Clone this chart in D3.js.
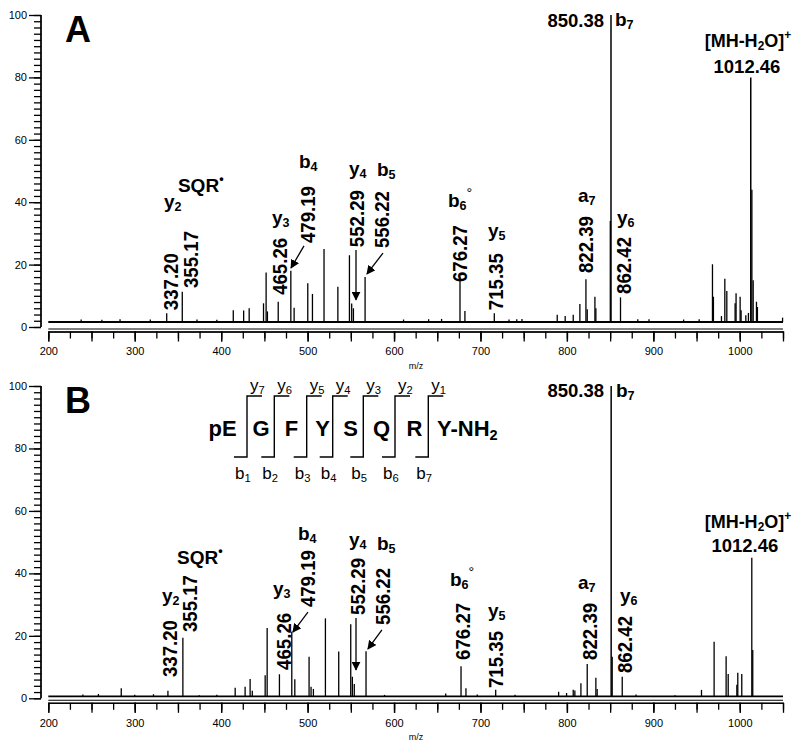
<!DOCTYPE html>
<html><head><meta charset="utf-8">
<script src="https://cdn.jsdelivr.net/npm/d3@7"></script>
<style>body{margin:0;background:#fff}svg{display:block}</style>
</head><body><svg id="c" width="800" height="749"></svg>
<script>
// ---------------- DATA ----------------
const mzDomain = [200, 1050];
const xLabelTicks = [200, 300, 400, 500, 600, 700, 800, 900, 1000];
const yLabelTicks = [0, 20, 40, 60, 80, 100];

// Spectrum A: [m/z, relative intensity %]
const peaksA = [
  [337.0,4.4],[355.0,11.3],[414,5.4],[426,5.3],[432.4,6.0],[449,7.6],[452,17.5],[453.5,5],
  [466,8.1],[480.6,18],[484.4,6.2],[500.2,14],[505.6,10.6],[519,25],[535,12.9],[548.4,23],
  [551,7.5],[553,6],[566.5,16],[676.3,16.3],[682,5.1],[716,4.4],[742,2.5],[788.8,3.9],
  [798,3.5],[807.3,3.9],[815,7.4],[822,15.3],[823.5,5.7],[832.4,9.7],[833.5,6],[850.2,34],
  [851,100],[862,9.5],[882,2.5],[953,2.5],[968.4,20.1],[969.5,9.7],[978.8,3.5],[982.7,15.5],
  [985,11.5],[994.6,7.6],[995.7,10.8],[1000.4,9.7],[1001.5,5.4],[1007,3.8],[1010,4.5],
  [1012.7,80],[1014,44],[1015.5,15],[1019.3,8.1],[1020.4,6.4],[1049.5,3],
  [238,2.4],[262,2.3],[283,2.5],[318,2.4],[372,2.4],[395,2.3],[611,2.4],[640,2.5],[655,2.6],[733,2.4],[748,2.6],[895,2.5],[935,2.4]
];
// Spectrum B
const peaksB = [
  [284.4,3.2],[321.7,1.3],[338.4,2.4],[355.7,19.4],[374.6,1.0],[416.2,3.4],[427.7,3.7],
  [433.5,6.2],[436,2.4],[450.9,7.4],[453.2,22.5],[467.4,7.7],[481.7,21.3],[485.2,6.1],
  [501.7,13.3],[504,3.7],[506.7,3],[520.6,25.6],[536,15],[549.9,23.7],[551.8,6.9],[554,4.6],
  [567.6,15.1],[659.8,1.5],[677.5,10.3],[683.2,3.2],[696.3,1.2],[717.6,2.7],[790.4,2.1],
  [799.6,1.7],[807.3,2.7],[809.2,2.5],[816.2,4.8],[823.5,11],[833.5,6.6],[835,3],
  [851.2,100],[852.4,13.3],[864,6.9],[955.7,2.7],[970.3,18.1],[984.2,13.5],[986.6,7.8],
  [996.6,4.3],[997.7,8.2],[1002.3,7.8],[1013.9,45],[1015,15.5],
  [240,1.2],[258,1.4],[300,1.1],[395,1.1],[589,1.1],[740,1.1],[880,1.2],[925,1.0]
];
const baselineA = 1.6, baselineB = 0.6;

// Peak annotations (rotated m/z values): [text, m/z anchor, intensity anchor]
const mzLabelsA = [["337.20",341.9,5.4],["355.17",365.0,12.5],["465.26",468.1,10.3],["479.19",499.9,26.9],
  ["552.29",557.1,25.6],["556.22",585.5,25.3],["676.27",676.3,14.4],["715.35",717.4,5.4],
  ["822.39",821.5,17.3],["862.42",865.4,10.6]];
const mzLabelsB = [["337.20",340.8,6.8],["355.17",363.9,21.2],["465.26",472.7,9.1],["479.19",499.9,29.2],
  ["552.29",557.7,26.7],["556.22",586.6,23.5],["676.27",679.2,12.3],["715.35",718.0,3.3],
  ["822.39",826.1,12.3],["862.42",866.6,8.1]];
// Ion labels: [text, m/z, intensity, anchor]
const ionLabelsA = [["y_2",333.9,38.1,"start"],["SQR^•",350.0,43.3,"start"],["y_3",458.8,33.0,"start"],
  ["b_4",490.0,51.0,"start"],["y_4",547.9,48.7,"start"],["b_5",580.3,48.4,"start"],
  ["b_6^°",662.4,38.5,"start"],["y_5",708.7,28.8,"start"],["a_7",812.8,40.1,"start"],
  ["y_6",857.9,33.0,"start"],["850.38",842.9,96.2,"end"],["b_7",855.6,96.5,"start"],
  ["[MH-H_2O]^+",1009.4,89.7,"middle"],["1012.46",1008.3,81.4,"middle"]];
const ionLabelsB = [["y_2",331.5,30.8,"start"],["SQR^•",348.9,43.0,"start"],["y_3",459.9,33.1,"start"],
  ["b_4",488.8,50.7,"start"],["y_4",547.9,48.8,"start"],["b_5",580.3,47.5,"start"],
  ["b_6^°",664.7,36.0,"start"],["y_5",708.7,26.0,"start"],["a_7",812.8,35.0,"start"],
  ["y_6",861.3,30.8,"start"],["850.38",842.9,96.5,"end"],["b_7",856.7,96.5,"start"],
  ["[MH-H_2O]^+",1009.4,54.5,"middle"],["1012.46",1005.9,46.8,"middle"]];
// Arrows: [mz1, int1, mz2, int2]
const arrowsA = [[495.8,26.0,480.8,18.9],[556.0,24.7,556.0,8.7],[587.2,23.7,568.7,17.0]];
const arrowsB = [[500.4,27.6,483.0,21.2],[556.0,25.7,556.0,9.1],[586.0,21.9,569.8,15.8]];

// Sequence diagram
const residues = ["pE","G","F","Y","S","Q","R","Y-NH_2"];
const yIons = ["y_7","y_6","y_5","y_4","y_3","y_2","y_1"];
const bIons = ["b_1","b_2","b_3","b_4","b_5","b_6","b_7"];

// ---------------- DRAW ----------------
const svg = d3.select("#c");
svg.append("rect").attr("width",800).attr("height",749).attr("fill","#fff");
const FONT = "'Liberation Sans', Arial, Helvetica, sans-serif";
const x = d3.scaleLinear().domain(mzDomain).range([48.3, 783]);

svg.append("defs").append("marker").attr("id","ah").attr("viewBox","0 0 10 10")
  .attr("refX",9).attr("refY",5).attr("markerWidth",9).attr("markerHeight",9)
  .attr("markerUnits","userSpaceOnUse").attr("orient","auto")
  .append("path").attr("d","M0,0 L10,5 L0,10 Z").attr("fill","#000");

function rich(sel, str, fs) {
  let cur = 0;
  const toks = [];
  let buf = "";
  for (let i = 0; i < str.length; i++) {
    const c = str[i];
    if ((c === "_" || c === "^") && i + 1 < str.length) {
      if (buf) { toks.push([buf, 0]); buf = ""; }
      toks.push([str[i+1], c === "_" ? 1 : -1]); i++;
    } else buf += c;
  }
  if (buf) toks.push([buf, 0]);
  toks.forEach(([t, k]) => {
    const target = k === 1 ? 0.16*fs : k === -1 ? -0.45*fs : 0;
    const ts = sel.append("tspan").attr("dy", target - cur)
      .attr("font-size", k === 0 ? fs : 0.66*fs).text(t);
    if (t === "°") ts.attr("font-weight","normal").attr("font-size", 0.75*fs);
    cur = target;
  });
}

const panels = [
  {key:"A", y0:327, y100:15, peaks:peaksA, base:baselineA, mzl:mzLabelsA, ions:ionLabelsA, arrows:arrowsA},
  {key:"B", y0:698.3, y100:386, peaks:peaksB, base:baselineB, mzl:mzLabelsB, ions:ionLabelsB, arrows:arrowsB}
];

panels.forEach(p => {
  const y = d3.scaleLinear().domain([0,100]).range([p.y0, p.y100]);
  const g = svg.append("g").attr("font-family", FONT);

  // y axis (minor + major)
  const yMinor = g.append("g").attr("transform","translate(41,0)")
    .call(d3.axisLeft(y).tickValues(d3.range(0,101,2)).tickSize(7).tickFormat(""));
  const yMajor = g.append("g").attr("transform","translate(41,0)")
    .call(d3.axisLeft(y).tickValues(yLabelTicks).tickSize(12).tickPadding(2));
  [yMinor,yMajor].forEach(a => { a.selectAll("line").attr("stroke","#000").attr("stroke-width",1.3);
    a.select(".domain").attr("stroke","#000").attr("stroke-width",1.3).attr("d",`M0,${y(0)}V${y(100)}`); });
  yMajor.selectAll("text").attr("font-size",11).attr("font-family",FONT).attr("fill","#000");

  // x axis
  const ax = p.y0 + 4.5;
  const x25 = g.append("g").attr("transform",`translate(0,${ax})`)
    .call(d3.axisBottom(x).tickValues(d3.range(200,1051,25)).tickSize(7).tickSizeOuter(0).tickFormat(""));
  const x50 = g.append("g").attr("transform",`translate(0,${ax})`)
    .call(d3.axisBottom(x).tickValues(d3.range(200,1051,50)).tickSize(10).tickSizeOuter(0).tickFormat(""));
  const xLab = g.append("g").attr("transform",`translate(0,${ax})`)
    .call(d3.axisBottom(x).tickValues(xLabelTicks).tickSize(10).tickSizeOuter(0).tickPadding(6).tickFormat(d3.format("d")));
  [x25,x50,xLab].forEach(a => { a.selectAll("line").attr("stroke","#000").attr("stroke-width",1.3);
    a.select(".domain").attr("stroke","#000").attr("stroke-width",1.1); });
  xLab.selectAll("text").attr("font-size",11).attr("font-family",FONT).attr("fill","#000");
  g.append("line").attr("x1",x(200)).attr("x2",x(1050)).attr("y1",ax-2.5).attr("y2",ax-2.5)
    .attr("stroke","#000").attr("stroke-width",1.1);
  g.append("text").attr("x",x(625.4)).attr("y",ax+37).attr("text-anchor","middle")
    .attr("font-size",9).text("m/z");

  // baseline noise band
  g.append("line").attr("x1",x(200)).attr("x2",x(1050)).attr("y1",y(p.base)).attr("y2",y(p.base))
    .attr("stroke","#000").attr("stroke-width",p.key==="A"?2.2:1.8);

  // peaks
  g.append("g").selectAll("line").data(p.peaks).join("line")
    .attr("x1",d=>x(d[0])).attr("x2",d=>x(d[0]))
    .attr("y1",y(p.base)).attr("y2",d=>y(d[1]))
    .attr("stroke","#000").attr("stroke-width",d=>d[1]>50?1.5:1.3);

  // rotated m/z labels
  g.append("g").selectAll("text").data(p.mzl).join("text")
    .attr("transform",d=>`translate(${x(d[1])},${y(d[2])}) rotate(-90)`)
    .attr("dy","0.36em").attr("font-size",20).attr("font-weight","bold")
    .attr("textLength",57).attr("lengthAdjust","spacingAndGlyphs").text(d=>d[0]);

  // ion labels
  p.ions.forEach(d => {
    const fs = /^[0-9]/.test(d[0]) ? 18.5 : (d[0].startsWith("[") ? 18 : 19);
    const t = g.append("text").attr("x",x(d[1])).attr("y",y(d[2]))
      .attr("text-anchor",d[3]).attr("font-weight","bold").attr("font-size",fs);
    rich(t, d[0], fs);
  });

  // arrows
  g.append("g").selectAll("line").data(p.arrows).join("line")
    .attr("x1",d=>x(d[0])).attr("y1",d=>y(d[1])).attr("x2",d=>x(d[2])).attr("y2",d=>y(d[3]))
    .attr("stroke","#000").attr("stroke-width",1.3).attr("marker-end","url(#ah)");

  // panel letter
  g.append("text").attr("x",65).attr("y",p.y100+27).attr("font-size",36).attr("font-weight","bold")
    .text(p.key);
});

// Sequence diagram (panel B inset)
const sq = svg.append("g").attr("font-family", FONT);
const cleave = [247, 274.3, 306.7, 332.7, 363.3, 395, 428.3];
const resX = [222.5, 261, 291.5, 322.5, 350.5, 381.5, 414.5, 437];
const topY = 396, botY = 457;
residues.forEach((r,i) => {
  const t = sq.append("text").attr("x",resX[i]).attr("y",436).attr("font-size",22).attr("font-weight","bold")
    .attr("text-anchor", i === residues.length-1 ? "start" : "middle");
  rich(t, r, 22);
});
cleave.forEach((cx,i) => {
  sq.append("path").attr("d",`M${cx-13},${botY}H${cx}V${topY}H${cx+15}`)
    .attr("fill","none").attr("stroke","#000").attr("stroke-width",1.4);
  const ty = sq.append("text").attr("x",cx+3).attr("y",391).attr("font-size",17);
  rich(ty, yIons[i], 17);
  const tb = sq.append("text").attr("x",cx-12).attr("y",479).attr("font-size",17);
  rich(tb, bIons[i], 17);
});
</script>
</body></html>
